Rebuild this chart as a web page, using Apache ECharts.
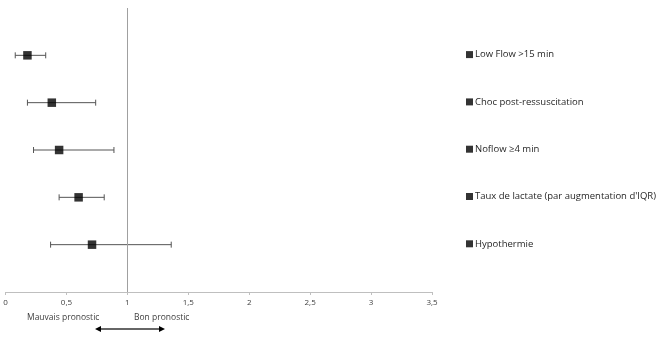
<!DOCTYPE html>
<html><head><meta charset="utf-8">
<script src="https://cdn.jsdelivr.net/npm/echarts@6/dist/echarts.min.js"></script>
<style>html,body{margin:0;padding:0;background:#fff}#c{width:657px;height:363px}</style>
</head><body><div id="c"></div>
<script>
const categories = ['Low Flow >15 min','Choc post-ressuscitation','Noflow \u22654 min',"Taux de lactate (par augmentation d'IQR)",'Hypothermie'];
const estimates = [0.18, 0.38, 0.44, 0.60, 0.71];
const lowerCI = [0.08, 0.18, 0.23, 0.44, 0.37];
const upperCI = [0.33, 0.74, 0.89, 0.81, 1.36];
const rowPos = [5, 4, 3, 2, 1];
const xTicks = ['0','0,5','1','1,5','2','2,5','3','3,5'];

const FONT = 'Open Sans';
const series = categories.map((name, i) => ({
  name: name, type: 'scatter', symbol: 'rect', symbolSize: 8.5,
  itemStyle: {color: '#000'}, z: 5,
  data: [[estimates[i], rowPos[i]]]
}));
series.push({
  type: 'custom', name: 'ci', z: 3,
  renderItem: function (params, api) {
    const y = api.value(2);
    const a = api.coord([api.value(0), y]);
    const b = api.coord([api.value(1), y]);
    const h = 3;
    const st = {stroke: '#555', lineWidth: 1};
    return {type: 'group', children: [
      {type: 'line', shape: {x1: a[0], y1: a[1], x2: b[0], y2: b[1]}, style: st},
      {type: 'line', shape: {x1: a[0], y1: a[1]-h, x2: a[0], y2: a[1]+h}, style: st},
      {type: 'line', shape: {x1: b[0], y1: b[1]-h, x2: b[0], y2: b[1]+h}, style: st}
    ]};
  },
  data: categories.map((c, i) => [lowerCI[i], upperCI[i], rowPos[i]])
});
series.push({
  type: 'line', name: 'ref', data: [], silent: true,
  markLine: {silent: true, symbol: 'none', label: {show: false},
    lineStyle: {color: '#a0a0a0', type: 'solid', width: 1},
    data: [{xAxis: 1}]}
});

const chart = echarts.init(document.getElementById('c'));
chart.setOption({
  animation: false,
  grid: {left: 5.5, right: 225, top: 8, bottom: 71},
  xAxis: {type: 'value', min: 0, max: 3.5, interval: 0.5,
    axisLine: {lineStyle: {color: '#bfbfbf'}},
    axisTick: {show: true, length: 3, lineStyle: {color: '#bfbfbf'}},
    splitLine: {show: false},
    axisLabel: {fontFamily: FONT, fontSize: 8, color: '#404040', margin: 7,
      formatter: v => xTicks[Math.round(v / 0.5)]}
  },
  yAxis: {type: 'value', min: 0, max: 6, show: false},
  legend: {orient: 'vertical', left: 466, top: 48.6, itemGap: 35.3, padding: 0,
    itemWidth: 7, itemHeight: 7, icon: 'rect',
    data: categories,
    textStyle: {fontFamily: FONT, fontSize: 9.5, color: '#262626', lineHeight: 12, padding: [0,0,0,-3]}
  },
  graphic: [
    {type: 'text', left: 27, top: 313, style: {text: 'Mauvais pronostic', font: '8.5px "Open Sans"', fill: '#404040'}},
    {type: 'text', left: 134, top: 313, style: {text: 'Bon pronostic', font: '8.5px "Open Sans"', fill: '#404040'}},
    {type: 'line', shape: {x1: 100, y1: 329, x2: 160, y2: 329}, style: {stroke: '#333', lineWidth: 1.5}},
    {type: 'polygon', shape: {points: [[95,329],[101,326],[101,332]]}, style: {fill: '#000'}},
    {type: 'polygon', shape: {points: [[165,329],[159,326],[159,332]]}, style: {fill: '#000'}}
  ],
  series: series
});
</script></body></html>
